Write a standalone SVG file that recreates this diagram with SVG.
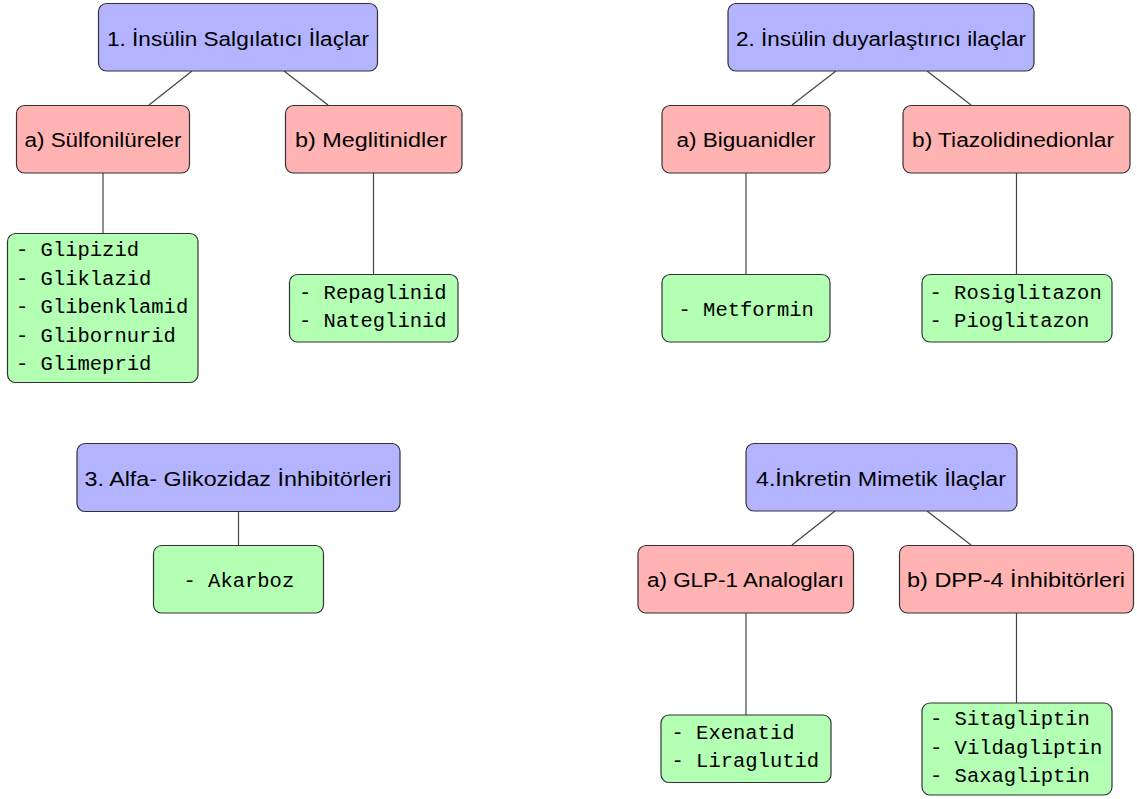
<svg xmlns="http://www.w3.org/2000/svg" width="1137" height="799" viewBox="0 0 1137 799">
<style>
.blue{fill:#b3b3ff;stroke:#333;stroke-width:1.2}
.red{fill:#ffb3b3;stroke:#333;stroke-width:1.2}
.green{fill:#b3ffb3;stroke:#333;stroke-width:1.2}
.sans{font-family:"Liberation Sans",Arial,sans-serif;font-size:20px;fill:#000;text-anchor:middle}
.mono{font-family:"Liberation Mono","DejaVu Sans Mono",monospace;font-size:20.5px;fill:#000}
#connectors line{stroke:#444;stroke-width:1.2}
</style>
<rect width="1137" height="799" fill="#fff"/>
<g id="connectors">
<line x1="192" y1="71" x2="149" y2="105"/>
<line x1="284" y1="71" x2="328" y2="105"/>
<line x1="103" y1="173" x2="103" y2="233"/>
<line x1="373.5" y1="173" x2="373.5" y2="274"/>
<line x1="836" y1="71" x2="792" y2="105"/>
<line x1="927" y1="71" x2="971" y2="105"/>
<line x1="746" y1="173" x2="746" y2="274"/>
<line x1="1016.5" y1="173" x2="1016.5" y2="274"/>
<line x1="238.5" y1="512" x2="238.5" y2="545"/>
<line x1="835" y1="511" x2="792" y2="545"/>
<line x1="927" y1="511" x2="971" y2="545"/>
<line x1="746" y1="613" x2="746" y2="715"/>
<line x1="1016.5" y1="613" x2="1016.5" y2="703"/>
</g>
<g id="n1"><rect class="blue" x="98.5" y="3.5" width="279" height="67.5" rx="8"/><text class="sans" x="238" y="46" textLength="262" lengthAdjust="spacingAndGlyphs">1. İnsülin Salgılatıcı İlaçlar</text></g>
<g id="n1a"><rect class="red" x="16.5" y="105.5" width="173" height="67.5" rx="8"/><text class="sans" x="103" y="146.5" textLength="157" lengthAdjust="spacingAndGlyphs">a) Sülfonilüreler</text></g>
<g id="n1b"><rect class="red" x="285.5" y="105.5" width="176.5" height="67.5" rx="8"/><text class="sans" x="371" y="146.5" textLength="152" lengthAdjust="spacingAndGlyphs">b) Meglitinidler</text></g>
<g id="n1a1"><rect class="green" x="7.5" y="233.5" width="190.5" height="149" rx="8"/><text class="mono"><tspan x="16" y="256">- Glipizid</tspan><tspan x="16" y="284.5">- Gliklazid</tspan><tspan x="16" y="313">- Glibenklamid</tspan><tspan x="16" y="341.5">- Glibornurid</tspan><tspan x="16" y="370">- Glimeprid</tspan></text></g>
<g id="n1b1"><rect class="green" x="289.5" y="274.5" width="168.5" height="67.5" rx="8"/><text class="mono"><tspan x="299" y="298.5">- Repaglinid</tspan><tspan x="299" y="327">- Nateglinid</tspan></text></g>
<g id="n2"><rect class="blue" x="728" y="3.5" width="306" height="67.5" rx="8"/><text class="sans" x="881" y="46" textLength="290" lengthAdjust="spacingAndGlyphs">2. İnsülin duyarlaştırıcı ilaçlar</text></g>
<g id="n2a"><rect class="red" x="662" y="105.5" width="168" height="67.5" rx="8"/><text class="sans" x="746" y="146.5" textLength="139" lengthAdjust="spacingAndGlyphs">a) Biguanidler</text></g>
<g id="n2b"><rect class="red" x="903" y="105.5" width="227" height="67.5" rx="8"/><text class="sans" x="1013" y="146.5" textLength="202" lengthAdjust="spacingAndGlyphs">b) Tiazolidinedionlar</text></g>
<g id="n2a1"><rect class="green" x="662" y="274.5" width="168" height="67.5" rx="8"/><text class="mono" x="678.5" y="316">- Metformin</text></g>
<g id="n2b1"><rect class="green" x="922" y="274.5" width="190" height="67.5" rx="8"/><text class="mono"><tspan x="929.5" y="298.5">- Rosiglitazon</tspan><tspan x="929.5" y="327">- Pioglitazon</tspan></text></g>
<g id="n3"><rect class="blue" x="77" y="443.5" width="323" height="68" rx="8"/><text class="sans" x="238" y="486" textLength="307" lengthAdjust="spacingAndGlyphs">3. Alfa- Glikozidaz İnhibitörleri</text></g>
<g id="n3a"><rect class="green" x="153.5" y="545.5" width="170" height="67.5" rx="8"/><text class="mono" x="183.5" y="587">- Akarboz</text></g>
<g id="n4"><rect class="blue" x="746" y="443.5" width="271" height="67.5" rx="8"/><text class="sans" x="881" y="486" textLength="250" lengthAdjust="spacingAndGlyphs">4.İnkretin Mimetik İlaçlar</text></g>
<g id="n4a"><rect class="red" x="638" y="545.5" width="215.5" height="67.5" rx="8"/><text class="sans" x="745.5" y="586.5" textLength="197" lengthAdjust="spacingAndGlyphs">a) GLP-1 Analogları</text></g>
<g id="n4b"><rect class="red" x="899.5" y="545.5" width="234" height="67.5" rx="8"/><text class="sans" x="1016" y="586.5" textLength="218" lengthAdjust="spacingAndGlyphs">b) DPP-4 İnhibitörleri</text></g>
<g id="n4a1"><rect class="green" x="661" y="715" width="170" height="67.5" rx="8"/><text class="mono"><tspan x="671.5" y="738.5">- Exenatid</tspan><tspan x="671.5" y="767">- Liraglutid</tspan></text></g>
<g id="n4b1"><rect class="green" x="922" y="703" width="190" height="92" rx="8"/><text class="mono"><tspan x="930" y="725">- Sitagliptin</tspan><tspan x="930" y="753.5">- Vildagliptin</tspan><tspan x="930" y="782">- Saxagliptin</tspan></text></g>
</svg>
